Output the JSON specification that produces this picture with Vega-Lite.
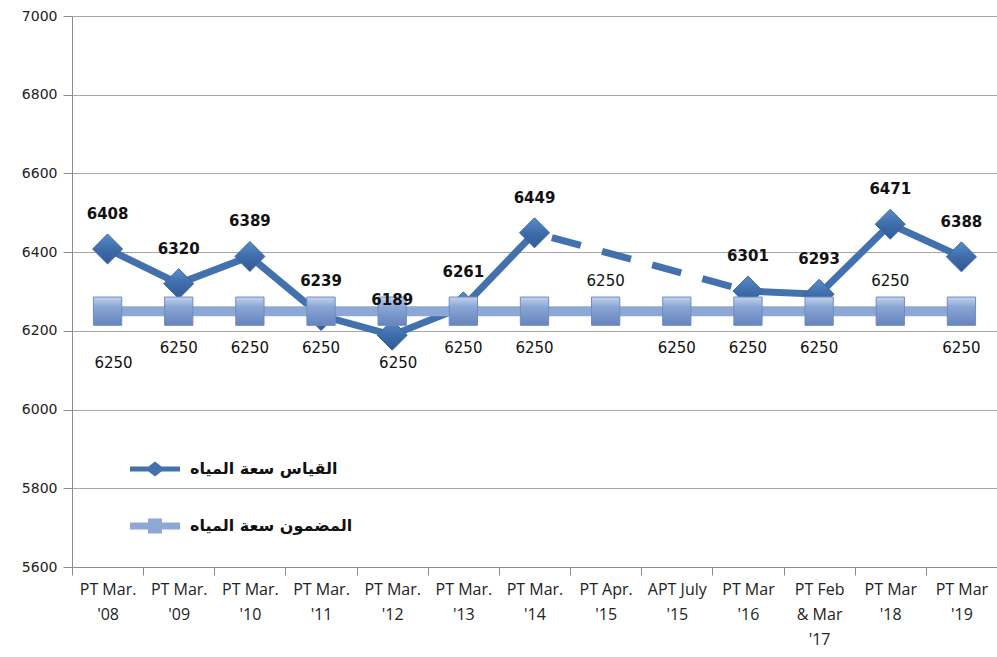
{
  "$schema": "https://vega.github.io/schema/vega-lite/v6.json",
  "width": 925,
  "height": 551,
  "autosize": {"type": "none"},
  "padding": {"left": 72, "top": 16, "right": 0, "bottom": 90},
  "background": "white",
  "config": {"view": {"stroke": null}},
  "data": {"values": [
    {"cat": "PT Mar.|'08", "measured": 6408, "guaranteed": 6250},
    {"cat": "PT Mar.|'09", "measured": 6320, "guaranteed": 6250},
    {"cat": "PT Mar.|'10", "measured": 6389, "guaranteed": 6250},
    {"cat": "PT Mar.|'11", "measured": 6239, "guaranteed": 6250},
    {"cat": "PT Mar.|'12", "measured": 6189, "guaranteed": 6250},
    {"cat": "PT Mar.|'13", "measured": 6261, "guaranteed": 6250},
    {"cat": "PT Mar.|'14", "measured": 6449, "guaranteed": 6250},
    {"cat": "PT Apr.|'15", "measured": null, "guaranteed": 6250},
    {"cat": "APT July|'15", "measured": null, "guaranteed": 6250},
    {"cat": "PT Mar|'16", "measured": 6301, "guaranteed": 6250},
    {"cat": "PT Feb|& Mar|'17", "measured": 6293, "guaranteed": 6250},
    {"cat": "PT Mar|'18", "measured": 6471, "guaranteed": 6250},
    {"cat": "PT Mar|'19", "measured": 6388, "guaranteed": 6250}
  ]},
  "encoding": {
    "x": {
      "field": "cat", "type": "nominal", "sort": null,
      "scale": {"type": "band", "paddingInner": 0, "paddingOuter": 0},
      "axis": {
        "title": null, "labelAngle": 0, "tickBand": "extent",
        "labelExpr": "split(datum.label, '|')",
        "labelFont": "Open Sans", "labelFontSize": 16, "labelColor": "#222222",
        "labelLineHeight": 25, "labelPadding": 6, "tickSize": 8,
        "tickColor": "#8c8c8c", "domainColor": "#8c8c8c", "grid": false,
        "labelBaseline": "top"
      }
    }
  },
  "layer": [
    {
      "mark": {"type": "line", "strokeWidth": 7, "invalid": "break-paths-show-domains"},
      "encoding": {
        "y": {"field": "measured", "type": "quantitative",
          "scale": {"domain": [5600, 7000], "nice": false, "zero": false},
          "axis": {"title": null, "values": [5600, 5800, 6000, 6200, 6400, 6600, 6800, 7000], "format": "d",
            "labelFont": "DejaVu Sans", "labelFontSize": 14, "labelColor": "#222222",
            "tickSize": 9, "tickColor": "#8c8c8c", "domainColor": "#8c8c8c",
            "gridColor": "#a6a6a6", "gridWidth": 1, "labelPadding": 6}},
        "color": {"datum": "القياس سعة المياه", "type": "nominal",
          "scale": {"domain": ["القياس سعة المياه", "المضمون سعة المياه"], "range": ["#4371AE", "#8EA8D6"]},
          "legend": {
            "orient": "none", "legendX": 58, "legendY": 428, "title": null,
            "direction": "vertical", "symbolSize": 2500, "rowPadding": 24,
            "labelFont": "DejaVu Sans", "labelFontSize": 16, "labelFontWeight": "bold",
            "labelColor": "#111111", "labelOffset": 10, "padding": 0, "labelLimit": 400,
            "symbolStrokeWidth": 0,
            "encode": {
              "symbols": {"update": {
              "shape": {"signal": "datum.value === 'القياس سعة المياه' ? 'M-1,-0.1L-0.26,-0.1L0,-0.3L0.26,-0.1L1,-0.1L1,0.1L0.26,0.1L0,0.3L-0.26,0.1L-1,0.1Z' : 'M-1,-0.14L-0.28,-0.14L-0.28,-0.3L0.28,-0.3L0.28,-0.14L1,-0.14L1,0.14L0.28,0.14L0.28,0.3L-0.28,0.3L-0.28,0.14L-1,0.14Z'"},
              "fill": {"signal": "datum.value === 'القياس سعة المياه' ? '#4371AE' : '#8EA8D6'"},
              "fillOpacity": {"value": 1},
              "strokeWidth": {"value": 0}
            }}}
          }
        }
      }
    },
    {
      "transform": [{"filter": "datum.cat === \"PT Mar.|'14\" || datum.cat === \"PT Mar|'16\""}],
      "mark": {"type": "line", "strokeWidth": 7, "strokeDash": [30, 22], "strokeDashOffset": -18, "color": "#4371AE"},
      "encoding": {"y": {"field": "measured", "type": "quantitative"}}
    },
    {
      "transform": [{"filter": "datum.measured != null"}],
      "mark": {"type": "point", "shape": "diamond", "size": 900, "filled": true, "opacity": 1,
        "fill": {"gradient": "linear", "x1": 0, "y1": 0, "x2": 0, "y2": 1,
          "stops": [{"offset": 0, "color": "#5A8BCB"}, {"offset": 0.5, "color": "#3F6DAA"}, {"offset": 1, "color": "#2F5A94"}]},
        "stroke": "#3A66A0", "strokeWidth": 1},
      "encoding": {"y": {"field": "measured", "type": "quantitative"}}
    },
    {
      "mark": {"type": "line", "strokeWidth": 10, "color": "#8EA8D6"},
      "encoding": {"y": {"field": "guaranteed", "type": "quantitative"}}
    },
    {
      "mark": {"type": "point", "shape": "square", "size": 800, "filled": true, "opacity": 1,
        "fill": {"gradient": "linear", "x1": 0, "y1": 0, "x2": 0, "y2": 1,
          "stops": [{"offset": 0, "color": "#C3D3EC"}, {"offset": 0.35, "color": "#8AA6D6"}, {"offset": 1, "color": "#6684BC"}]},
        "stroke": "#6F8CC2", "strokeWidth": 1},
      "encoding": {"y": {"field": "guaranteed", "type": "quantitative"}}
    },
    {
      "transform": [{"filter": "datum.measured != null"}],
      "mark": {"type": "text", "dy": -35, "font": "DejaVu Sans", "fontSize": 15, "fontWeight": "bold", "color": "#111111"},
      "encoding": {"y": {"field": "measured", "type": "quantitative"}, "text": {"field": "measured", "type": "quantitative", "format": "d"}}
    },
    {
      "transform": [{"filter": "indexof([\"PT Apr.|'15\", \"PT Mar|'18\", \"PT Mar.|'08\", \"PT Mar.|'12\"], datum.cat) < 0"}],
      "mark": {"type": "text", "dy": 37, "font": "DejaVu Sans", "fontSize": 15, "color": "#111111"},
      "encoding": {"y": {"field": "guaranteed", "type": "quantitative"}, "text": {"field": "guaranteed", "type": "quantitative", "format": "d"}}
    },
    {
      "transform": [{"filter": "datum.cat === \"PT Mar.|'08\" || datum.cat === \"PT Mar.|'12\""}],
      "mark": {"type": "text", "dy": 52, "dx": 6, "font": "DejaVu Sans", "fontSize": 15, "color": "#111111"},
      "encoding": {"y": {"field": "guaranteed", "type": "quantitative"}, "text": {"field": "guaranteed", "type": "quantitative", "format": "d"}}
    },
    {
      "transform": [{"filter": "datum.cat === \"PT Apr.|'15\" || datum.cat === \"PT Mar|'18\""}],
      "mark": {"type": "text", "dy": -30, "font": "DejaVu Sans", "fontSize": 15, "color": "#111111"},
      "encoding": {"y": {"field": "guaranteed", "type": "quantitative"}, "text": {"field": "guaranteed", "type": "quantitative", "format": "d"}}
    }
  ]
}
